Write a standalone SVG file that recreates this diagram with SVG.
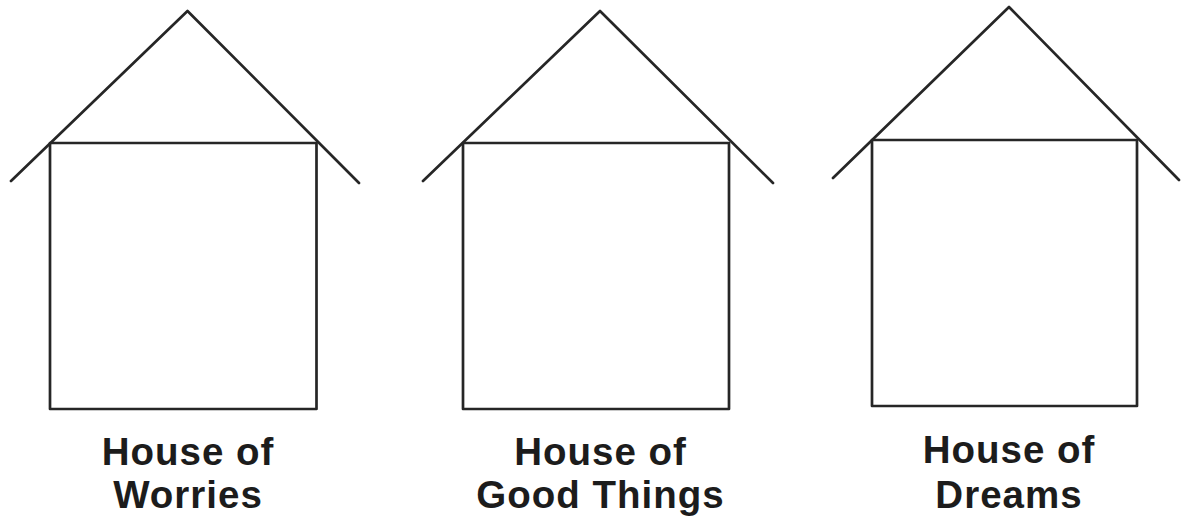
<svg xmlns="http://www.w3.org/2000/svg" width="1181" height="522" viewBox="0 0 1181 522">
<style>
.ln{fill:none;stroke:#262626;stroke-width:2.7;stroke-linecap:round;stroke-linejoin:round}
.lb{font-family:"Liberation Sans",Arial,sans-serif;font-weight:700;font-size:38.5px;letter-spacing:1px;fill:#1c1c1c;text-anchor:middle}
</style>
<rect width="1181" height="522" fill="#ffffff"/>
<g id="house-worries">
<polyline class="ln" points="11,181 187.5,11 359,183"/>
<rect class="ln" x="50" y="143" width="266.5" height="266"/>
<text class="lb" x="188" y="464.5">House of</text>
<text class="lb" x="188" y="508">Worries</text>
</g>
<g id="house-good-things">
<polyline class="ln" points="423,181 600,11 773,183"/>
<rect class="ln" x="463" y="143" width="266" height="266"/>
<text class="lb" x="600.5" y="464.5">House of</text>
<text class="lb" x="600.5" y="508">Good Things</text>
</g>
<g id="house-dreams">
<polyline class="ln" points="833,178 1009,7 1179,180"/>
<rect class="ln" x="872" y="140" width="265" height="266"/>
<text class="lb" x="1009" y="463">House of</text>
<text class="lb" x="1009" y="508">Dreams</text>
</g>
</svg>
